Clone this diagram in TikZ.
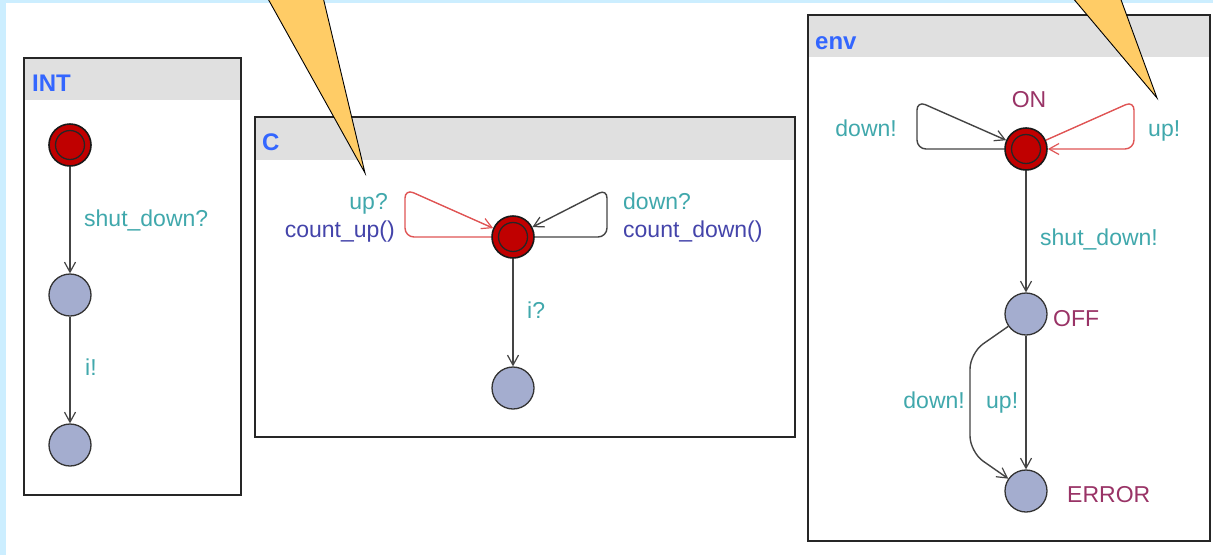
\documentclass[tikz,border=0pt]{standalone}
\usepackage{fontspec}
\setmainfont{Liberation Sans}
\usetikzlibrary{arrows.meta}
\definecolor{frameblue}{HTML}{CCEEFF}
\definecolor{headgray}{HTML}{E0E0E0}
\definecolor{titleblue}{HTML}{3366FF}
\definecolor{syncteal}{HTML}{40A8AC}
\definecolor{updblue}{HTML}{4444AA}
\definecolor{locpurple}{HTML}{993366}
\definecolor{initred}{HTML}{C00000}
\definecolor{locfill}{HTML}{A4ADCF}
\definecolor{edgegray}{HTML}{444444}
\definecolor{edgered}{HTML}{E05555}
\definecolor{calloutfill}{HTML}{FFCC66}
\begin{document}
\begin{tikzpicture}[x=1pt,y=-1pt,
  font=\fontsize{23}{27}\selectfont,
  template/.style={draw=black!85, line width=2pt},
  title/.style={anchor=base west, inner sep=0, text=titleblue,
    font=\fontsize{24}{28}\selectfont\bfseries},
  loc/.style={circle, draw=black!80, line width=1.3pt, fill=locfill,
    minimum size=42pt, inner sep=0},
  initloc/.style={loc, fill=initred, draw=black!90, line width=1.6pt,
    path picture={\draw[line width=1.3pt, black!85]
      (path picture bounding box.center) circle[radius=14.5pt];}},
  edge/.style={draw=edgegray, line width=1.4pt, rounded corners=9pt,
    -{Straight Barb[length=10pt,width=11pt,line width=1.2pt]}},
  redge/.style={edge, draw=edgered},
  sync/.style={text=syncteal, inner sep=0},
  upd/.style={text=updblue, inner sep=0},
  locname/.style={text=locpurple, inner sep=0},
  callout/.style={fill=calloutfill, draw=black, line width=0.9pt, line join=miter}]

\useasboundingbox (0,0) rectangle (1213,555);
% page background with the light frame on the left and top
\fill[white] (0,0) rectangle (1213,555);
\fill[frameblue] (0,0) rectangle (6,555);
\fill[frameblue] (0,0) rectangle (1213,3);

% ---------------- template INT ----------------
\fill[white] (24,58) rectangle (241,495);
\fill[headgray] (24,58) rectangle (241,100);
\draw[template] (24,58) rectangle (241,495);
\node[title] (tINT) at (32,91) {INT};
\node[initloc] (i0) at (70,145) {};
\node[loc] (i1) at (70,295) {};
\node[loc] (i2) at (70,445) {};
\draw[edge] (i0) -- (i1);
\draw[edge] (i1) -- (i2);
\node[sync, anchor=base west] (lInt1) at (84,226) {shut\_down?};
\node[sync, anchor=base west] (lInt2) at (85,375) {i!};

% ---------------- template C ----------------
\fill[white] (255,117) rectangle (795,437);
\fill[headgray] (255,117) rectangle (795,160);
\draw[template] (255,117) rectangle (795,437);
\node[title] (tC) at (262,150) {C};
\node[initloc] (c0) at (513,237) {};
\node[loc] (c1) at (513,388) {};
\coordinate (cu1) at (405,237);
\coordinate (cu2) at (405,189);
\coordinate (cd1) at (607,237);
\coordinate (cd2) at (607,189);
\draw[redge] (c0) -- (cu1) -- (cu2) -- (c0);
\draw[edge] (c0) -- (cd1) -- (cd2) -- (c0);
\draw[edge] (c0) -- (c1);
\node[sync, anchor=base east] (lCup) at (388,209) {up?};
\node[upd, anchor=base east] (lCupu) at (395,237) {count\_up()};
\node[sync, anchor=base west] (lCdn) at (623,209) {down?};
\node[upd, anchor=base west] (lCdnu) at (623,237) {count\_down()};
\node[sync, anchor=base west] (lCi) at (527,318) {i?};

% ---------------- template env ----------------
\fill[white] (808,15) rectangle (1210,541);
\fill[headgray] (808,15) rectangle (1210,57);
\draw[template] (808,15) rectangle (1210,541);
\node[title] (tEnv) at (815,49) {env};
\node[initloc] (on) at (1026,149) {};
\node[loc] (off) at (1026,314) {};
\node[loc] (err) at (1026,491) {};
\coordinate (ed1) at (917,149);
\coordinate (ed2) at (917,101);
\coordinate (eu1) at (1134,101);
\coordinate (eu2) at (1134,149);
\draw[edge] (on) -- (ed1) -- (ed2) -- (on);
\draw[redge] (on) -- (eu1) -- (eu2) -- (on);
\draw[edge] (on) -- (off);
\draw[edge] (off) -- (err);
\coordinate (ef1) at (970,353);
\coordinate (ef2) at (970,452);
\draw[edge, rounded corners=16pt] (off) -- (ef1) -- (ef2) -- (err);
\node[locname, anchor=base] (nOn) at (1029,107) {ON};
\node[locname, anchor=base west] (nOff) at (1053,326) {OFF};
\node[locname, anchor=base west] (nErr) at (1067,502) {ERROR};
\node[sync, anchor=base east] (lEdn) at (897,136) {down!};
\node[sync, anchor=base west] (lEup) at (1148,136) {up!};
\node[sync, anchor=base west] (lEsd) at (1040,245) {shut\_down!};
\node[sync, anchor=base east] (lEdn2) at (965,408) {down!};
\node[sync, anchor=base west] (lEup2) at (986,408) {up!};

% ---------------- pointing callouts ----------------
\draw[callout] (267,-3) -- (365,173) -- (323,-3);
\draw[callout] (1072,-3) -- (1157,98) -- (1120,-3);
\end{tikzpicture}
\end{document}
